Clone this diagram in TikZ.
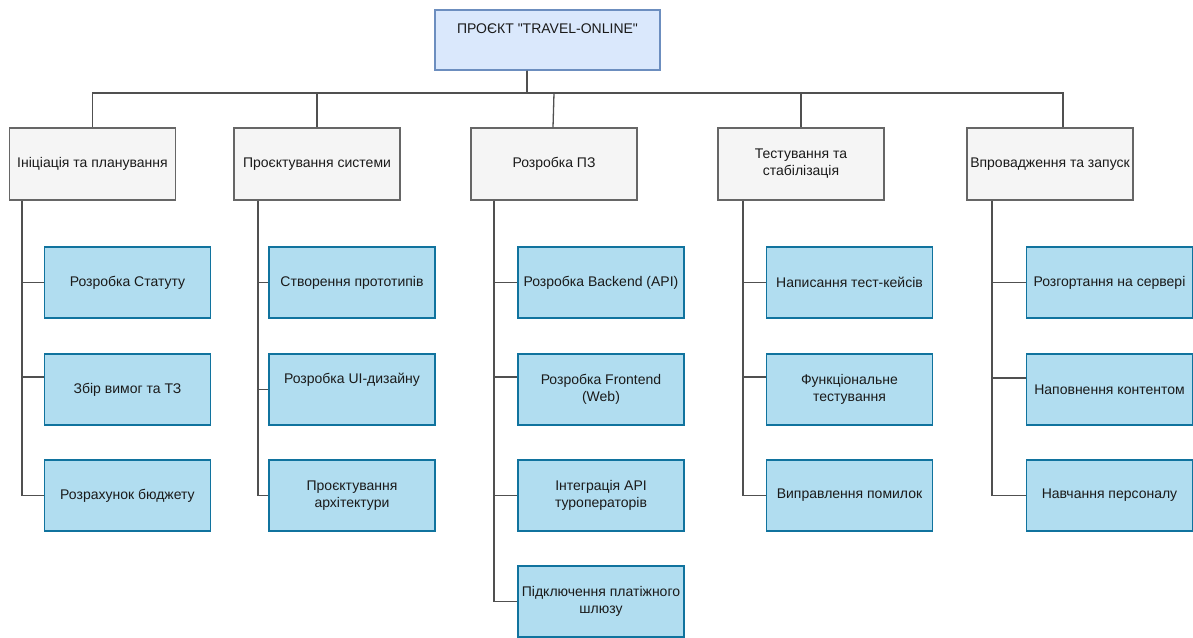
\documentclass[tikz,border=0pt]{standalone}
\usepackage{fontspec}
\setmainfont{Liberation Sans}[Ligatures=TeXOff]
\definecolor{rootfill}{HTML}{DAE8FC}
\definecolor{rootline}{HTML}{6C8EBF}
\definecolor{phasefill}{HTML}{F5F5F5}
\definecolor{phaseline}{HTML}{666666}
\definecolor{taskfill}{HTML}{B1DDF0}
\definecolor{taskline}{HTML}{10739E}
\definecolor{wire}{HTML}{505050}
\definecolor{ink}{HTML}{1A1A1A}
\begin{document}
\begin{tikzpicture}[x=1pt,y=-1pt,
  every node/.style={font=\fontsize{14}{17}\selectfont, text=ink, inner sep=0pt, align=center},
  rootbox/.style={draw=rootline, fill=rootfill, line width=1.3pt, minimum width=225pt, minimum height=60pt},
  phase/.style={draw=phaseline, fill=phasefill, line width=1.3pt, minimum width=166pt, minimum height=72pt},
  task/.style={draw=taskline, fill=taskfill, line width=1.3pt, minimum width=166pt, minimum height=71pt},
  link/.style={draw=wire, line width=1.3pt}]
\useasboundingbox (0,0) rectangle (1193,637);

% project root
\node[rootbox] (root) at (547.5,40) {};
\node (roottext) at (547.5,29) {ПРОЄКТ "TRAVEL-ONLINE"};

% phases
\node[phase] (p1) at (92.5,164) {Ініціація та планування};
\node[phase] (p2) at (317,164) {Проєктування системи};
\node[phase] (p3) at (554,164) {Розробка ПЗ};
\node[phase] (p4) at (801,164) {Тестування та\\стабілізація};
\node[phase] (p5) at (1050,164) {Впровадження та запуск};

% tasks: initiation
\node[task] (t11) at (127.5,282.5) {Розробка Статуту};
\node[task] (t12) at (127.5,389.5) {Збір вимог та ТЗ};
\node[task] (t13) at (127.5,495.5) {Розрахунок бюджету};
% tasks: design
\node[task] (t21) at (352,282.5) {Створення прототипів};
\node[task] (t22) at (352,389.5) {};
\node (t22text) at (352,380) {Розробка UI-дизайну};
\node[task] (t23) at (352,495.5) {Проєктування\\архітектури};
% tasks: development
\node[task] (t31) at (601,282.5) {Розробка Backend (API)};
\node[task] (t32) at (601,389.5) {Розробка Frontend\\(Web)};
\node[task] (t33) at (601,495.5) {Інтеграція API\\туроператорів};
\node[task] (t34) at (601,601.5) {Підключення платіжного\\шлюзу};
% tasks: testing
\node[task] (t41) at (849.5,282.5) {Написання тест-кейсів};
\node[task] (t42) at (849.5,389.5) {Функціональне\\тестування};
\node[task] (t43) at (849.5,495.5) {Виправлення помилок};
% tasks: deployment
\node[task] (t51) at (1109.5,282.5) {Розгортання на сервері};
\node[task] (t52) at (1109.5,389.5) {Наповнення контентом};
\node[task] (t53) at (1109.5,495.5) {Навчання персоналу};

% root to phases
\coordinate (rs) at ([xshift=-20.5pt]root.south);
\coordinate (bus) at (0,93);
\draw[link] (rs) |- (bus -| p1.north) -- (p1.north);
\draw[link] (rs) |- (bus -| p2.north) -- (p2.north);
\draw[link] (rs) |- (bus -| p3.north) -- ([xshift=-1pt]p3.north);
\draw[link] (rs) |- (bus -| p4.north) -- (p4.north);
\draw[link] (rs) |- (bus -| 1063,0) -- ([xshift=13pt]p5.north);

% phases to tasks
\foreach \p/\dx in {1/-70.5, 2/-59, 3/-60, 4/-58, 5/-58} {
  \coordinate (s\p) at ([xshift=\dx pt]p\p.south);
}
\draw[link] (s1) |- (t11.west);
\draw[link] (s1) |- ([yshift=12.5pt]t12.west);
\draw[link] (s1) |- (t13.west);
\draw[link] (s2) |- (t21.west);
\draw[link] (s2) |- (t22.west);
\draw[link] (s2) |- (t23.west);
\draw[link] (s3) |- (t31.west);
\draw[link] (s3) |- ([yshift=12.5pt]t32.west);
\draw[link] (s3) |- (t33.west);
\draw[link] (s3) |- (t34.west);
\draw[link] (s4) |- (t41.west);
\draw[link] (s4) |- ([yshift=12.5pt]t42.west);
\draw[link] (s4) |- (t43.west);
\draw[link] (s5) |- (t51.west);
\draw[link] (s5) |- ([yshift=11.5pt]t52.west);
\draw[link] (s5) |- (t53.west);
\end{tikzpicture}
\end{document}
